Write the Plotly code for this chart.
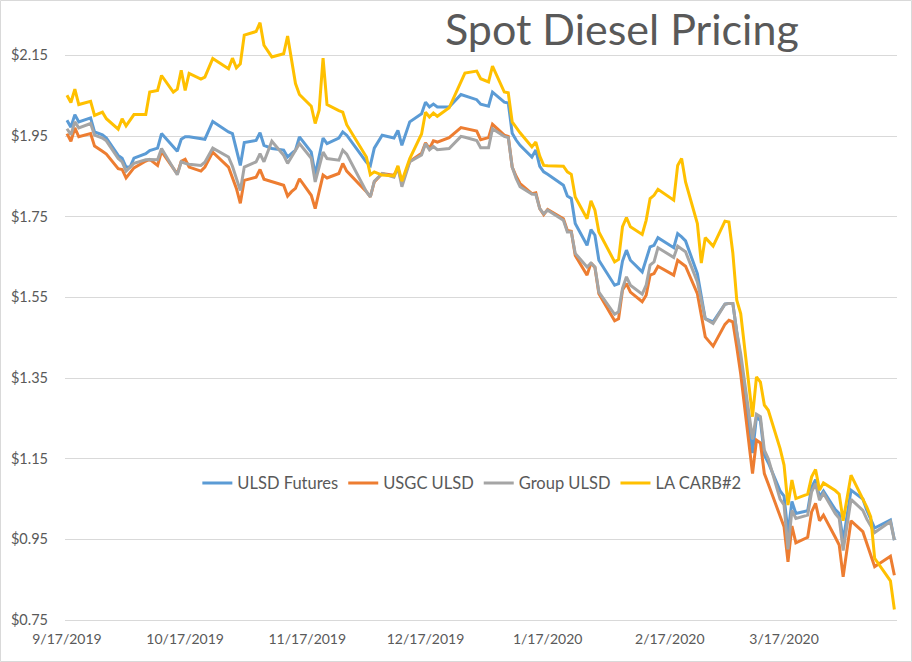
import plotly.graph_objects as go

dates = [
    "2019-09-17", "2019-09-18", "2019-09-19", "2019-09-20", "2019-09-23", "2019-09-24", "2019-09-26", "2019-09-27", "2019-09-30",
    "2019-10-01", "2019-10-02", "2019-10-03", "2019-10-04", "2019-10-07", "2019-10-08", "2019-10-10", "2019-10-11", "2019-10-14", "2019-10-15",
    "2019-10-16", "2019-10-17", "2019-10-18", "2019-10-21", "2019-10-22", "2019-10-24", "2019-10-28", "2019-10-29", "2019-10-30", "2019-10-31",
    "2019-11-01", "2019-11-04", "2019-11-05", "2019-11-06", "2019-11-08", "2019-11-11", "2019-11-12", "2019-11-13", "2019-11-14", "2019-11-15",
    "2019-11-18", "2019-11-19", "2019-11-20", "2019-11-21", "2019-11-22", "2019-11-25", "2019-11-26", "2019-11-27",
    "2019-12-02", "2019-12-03", "2019-12-04", "2019-12-06", "2019-12-09", "2019-12-10", "2019-12-11", "2019-12-13", "2019-12-16",
    "2019-12-17", "2019-12-18", "2019-12-19", "2019-12-20", "2019-12-23", "2019-12-26", "2019-12-27", "2019-12-30", "2019-12-31",
    "2020-01-02", "2020-01-03", "2020-01-06", "2020-01-07", "2020-01-08", "2020-01-09", "2020-01-10", "2020-01-13", "2020-01-14", "2020-01-15",
    "2020-01-16", "2020-01-17", "2020-01-21", "2020-01-22", "2020-01-23", "2020-01-24", "2020-01-27", "2020-01-28", "2020-01-29", "2020-01-30",
    "2020-02-03", "2020-02-04", "2020-02-05", "2020-02-06", "2020-02-07", "2020-02-10", "2020-02-11", "2020-02-12", "2020-02-13", "2020-02-14",
    "2020-02-18", "2020-02-19", "2020-02-20", "2020-02-21", "2020-02-24", "2020-02-25", "2020-02-26", "2020-02-28",
    "2020-03-02", "2020-03-03", "2020-03-04", "2020-03-05", "2020-03-06", "2020-03-09", "2020-03-10", "2020-03-11", "2020-03-12", "2020-03-13",
    "2020-03-16", "2020-03-17", "2020-03-18", "2020-03-19", "2020-03-20", "2020-03-23", "2020-03-24", "2020-03-25", "2020-03-26", "2020-03-27",
    "2020-03-30", "2020-03-31",
    "2020-04-01", "2020-04-03", "2020-04-06", "2020-04-07", "2020-04-08", "2020-04-09", "2020-04-13", "2020-04-14",
]

ulsd_futures = [
    1.989, 1.972, 2.003, 1.985, 1.995, 1.960, 1.953, 1.945, 1.902,
    1.895, 1.873, 1.873, 1.895, 1.906, 1.914, 1.920, 1.956, 1.925, 1.912,
    1.942, 1.948, 1.948, 1.943, 1.942, 1.986, 1.960, 1.956, 1.920, 1.877,
    1.934, 1.939, 1.958, 1.927, 1.919, 1.915, 1.898, 1.907, 1.915, 1.948,
    1.910, 1.854, 1.900, 1.945, 1.931, 1.945, 1.960, 1.952,
    1.885, 1.877, 1.920, 1.952, 1.945, 1.964, 1.927, 1.985, 2.005,
    2.034, 2.022, 2.029, 2.022, 2.022, 2.053, 2.050, 2.040, 2.029,
    2.024, 2.059, 2.034, 2.032, 1.957, 1.940, 1.927, 1.898, 1.915, 1.875,
    1.861, 1.855, 1.828, 1.801, 1.795, 1.733, 1.679, 1.718, 1.704, 1.642,
    1.580, 1.584, 1.640, 1.667, 1.642, 1.613, 1.645, 1.675, 1.679, 1.698,
    1.673, 1.708, 1.700, 1.690, 1.609, 1.555, 1.497, 1.489,
    1.533, 1.535, 1.535, 1.464, 1.395, 1.164, 1.254, 1.244, 1.159, 1.140,
    1.070, 1.057, 0.965, 1.044, 1.014, 1.021, 1.080, 1.098, 1.055, 1.070,
    1.024, 1.014,
    0.946, 1.072, 1.050, 1.022, 0.998, 0.978, 0.998, 0.948,
]

usgc_ulsd = [
    1.956, 1.937, 1.970, 1.948, 1.956, 1.925, 1.912, 1.905, 1.869,
    1.867, 1.846, 1.858, 1.871, 1.888, 1.892, 1.877, 1.912, 1.870, 1.856,
    1.887, 1.892, 1.873, 1.863, 1.873, 1.910, 1.873, 1.845, 1.820, 1.783,
    1.840, 1.848, 1.867, 1.843, 1.837, 1.828, 1.801, 1.812, 1.820, 1.844,
    1.803, 1.770, 1.812, 1.853, 1.846, 1.857, 1.882, 1.863,
    1.812, 1.799, 1.836, 1.857, 1.853, 1.869, 1.836, 1.887, 1.907,
    1.933, 1.919, 1.938, 1.935, 1.946, 1.971, 1.969, 1.962, 1.941,
    1.946, 1.979, 1.952, 1.949, 1.873, 1.850, 1.832, 1.807, 1.809, 1.770,
    1.755, 1.768, 1.745, 1.716, 1.714, 1.654, 1.605, 1.635, 1.624, 1.559,
    1.492, 1.497, 1.568, 1.584, 1.563, 1.539, 1.555, 1.605, 1.609, 1.627,
    1.605, 1.642, 1.635, 1.627, 1.559, 1.505, 1.452, 1.429,
    1.483, 1.493, 1.489, 1.427, 1.360, 1.113, 1.196, 1.189, 1.113, 1.087,
    1.008, 0.981, 0.894, 0.983, 0.941, 0.955, 1.018, 1.039, 0.996, 1.010,
    0.955, 0.936,
    0.857, 0.996, 0.969, 0.940, 0.910, 0.882, 0.908, 0.861,
]

group_ulsd = [
    1.968, 1.953, 1.985, 1.970, 1.981, 1.952, 1.945, 1.938, 1.894,
    1.886, 1.863, 1.872, 1.882, 1.891, 1.892, 1.891, 1.919, 1.870, 1.854,
    1.886, 1.882, 1.880, 1.877, 1.885, 1.920, 1.898, 1.875, 1.845, 1.815,
    1.873, 1.886, 1.906, 1.886, 1.937, 1.902, 1.882, 1.898, 1.915, 1.931,
    1.895, 1.836, 1.873, 1.910, 1.894, 1.890, 1.915, 1.905,
    1.812, 1.799, 1.838, 1.857, 1.848, 1.873, 1.824, 1.886, 1.903,
    1.931, 1.916, 1.924, 1.916, 1.919, 1.949, 1.947, 1.939, 1.921,
    1.921, 1.968, 1.949, 1.946, 1.873, 1.845, 1.824, 1.806, 1.805, 1.770,
    1.757, 1.766, 1.741, 1.712, 1.712, 1.659, 1.625, 1.635, 1.625, 1.563,
    1.508, 1.514, 1.572, 1.601, 1.580, 1.558, 1.580, 1.630, 1.638, 1.673,
    1.649, 1.677, 1.670, 1.663, 1.588, 1.545, 1.497, 1.485,
    1.533, 1.535, 1.535, 1.464, 1.410, 1.198, 1.260, 1.254, 1.171, 1.150,
    1.050, 1.035, 0.925, 1.022, 1.002, 1.010, 1.068, 1.088, 1.047, 1.064,
    1.014, 1.002,
    0.922, 1.049, 1.022, 1.000, 0.985, 0.967, 0.994, 0.948,
]

la_carb2 = [
    2.051, 2.033, 2.066, 2.028, 2.036, 2.001, 2.009, 1.993, 1.967,
    1.993, 1.975, 1.990, 2.003, 2.003, 2.059, 2.063, 2.100, 2.059, 2.066,
    2.113, 2.063, 2.105, 2.091, 2.096, 2.142, 2.117, 2.143, 2.119, 2.129,
    2.200, 2.209, 2.231, 2.175, 2.146, 2.154, 2.198, 2.142, 2.080, 2.053,
    2.024, 1.981, 2.014, 2.143, 2.028, 2.013, 2.009, 1.978,
    1.898, 1.854, 1.861, 1.853, 1.851, 1.876, 1.838, 1.894, 1.955,
    2.009, 1.997, 2.007, 1.999, 2.020, 2.085, 2.106, 2.111, 2.092,
    2.084, 2.123, 2.059, 2.057, 1.985, 1.970, 1.958, 1.923, 1.935, 1.900,
    1.877, 1.876, 1.875, 1.861, 1.855, 1.799, 1.745, 1.789, 1.766, 1.712,
    1.638, 1.644, 1.725, 1.748, 1.725, 1.706, 1.741, 1.795, 1.803, 1.818,
    1.791, 1.877, 1.894, 1.836, 1.733, 1.635, 1.698, 1.677,
    1.739, 1.737, 1.660, 1.543, 1.510, 1.254, 1.353, 1.340, 1.283, 1.270,
    1.175, 1.134, 1.035, 1.097, 1.051, 1.062, 1.105, 1.123, 1.072, 1.090,
    1.071, 1.062,
    0.996, 1.109, 1.050, 1.030, 1.006, 0.903, 0.847, 0.776,
]

series_names = ["ULSD Futures", "USGC ULSD", "Group ULSD", "LA CARB#2"]
series_values = [ulsd_futures, usgc_ulsd, group_ulsd, la_carb2]
series_colors = ["#5B9BD5", "#ED7D31", "#A5A5A5", "#FFC000"]

y_ticks = [0.75, 0.95, 1.15, 1.35, 1.55, 1.75, 1.95, 2.15]
y_tick_labels = ["$0.75", "$0.95", "$1.15", "$1.35", "$1.55", "$1.75", "$1.95", "$2.15"]
x_tick_dates = ["2019-09-17", "2019-10-17", "2019-11-17", "2019-12-17", "2020-01-17", "2020-02-17", "2020-03-17"]
x_tick_labels = ["9/17/2019", "10/17/2019", "11/17/2019", "12/17/2019", "1/17/2020", "2/17/2020", "3/17/2020"]

FONT = "Lato"
TXT = "#595959"

fig = go.Figure()
for name, vals, col in zip(series_names, series_values, series_colors):
    fig.add_trace(go.Scatter(x=dates, y=vals, mode="lines", name=name,
                             line=dict(color=col, width=3)))

fig.update_layout(
    width=912, height=662,
    margin=dict(l=65, r=15, t=15, b=42),
    plot_bgcolor="white", paper_bgcolor="white",
    font=dict(family=FONT, size=15, color=TXT),
    showlegend=True,
    legend=dict(orientation="h", x=0.489, xanchor="center", y=0.226, yanchor="middle",
                font=dict(family=FONT, size=16.5, color=TXT), bgcolor="rgba(0,0,0,0)",
                itemwidth=30),
    xaxis=dict(type="date", range=["2019-09-16 12:00", "2020-04-14 16:00"],
               tickvals=x_tick_dates, ticktext=x_tick_labels, showgrid=False,
               showline=True, linecolor="#d9d9d9", linewidth=1, ticks="",
               tickfont=dict(family=FONT, size=14, color=TXT), ticklabelstandoff=6),
    yaxis=dict(range=[0.75, 2.25], tickvals=y_ticks, ticktext=y_tick_labels,
               showgrid=True, gridcolor="#d9d9d9", gridwidth=1, zeroline=False, showline=False,
               ticks="", tickfont=dict(family=FONT, size=14.5, color=TXT), ticklabelstandoff=16),
    annotations=[dict(text="Spot Diesel Pricing", x=0.669, y=(620 - 1) / 605, xref="paper", yref="paper",
                      showarrow=False, xanchor="center", yanchor="top",
                      font=dict(family=FONT, size=43, color=TXT))],
    shapes=[dict(type="rect", xref="paper", yref="paper",
                 x0=(0.5 - 65) / 832, x1=(911.5 - 65) / 832,
                 y0=(620 - 661.5) / 605, y1=(620 - 0.5) / 605,
                 line=dict(color="#d9d9d9", width=1), fillcolor="rgba(0,0,0,0)", layer="below")],
)

fig.write_html("out.html", config={"displayModeBar": False},
               post_script="document.body.style.margin='0px';")
